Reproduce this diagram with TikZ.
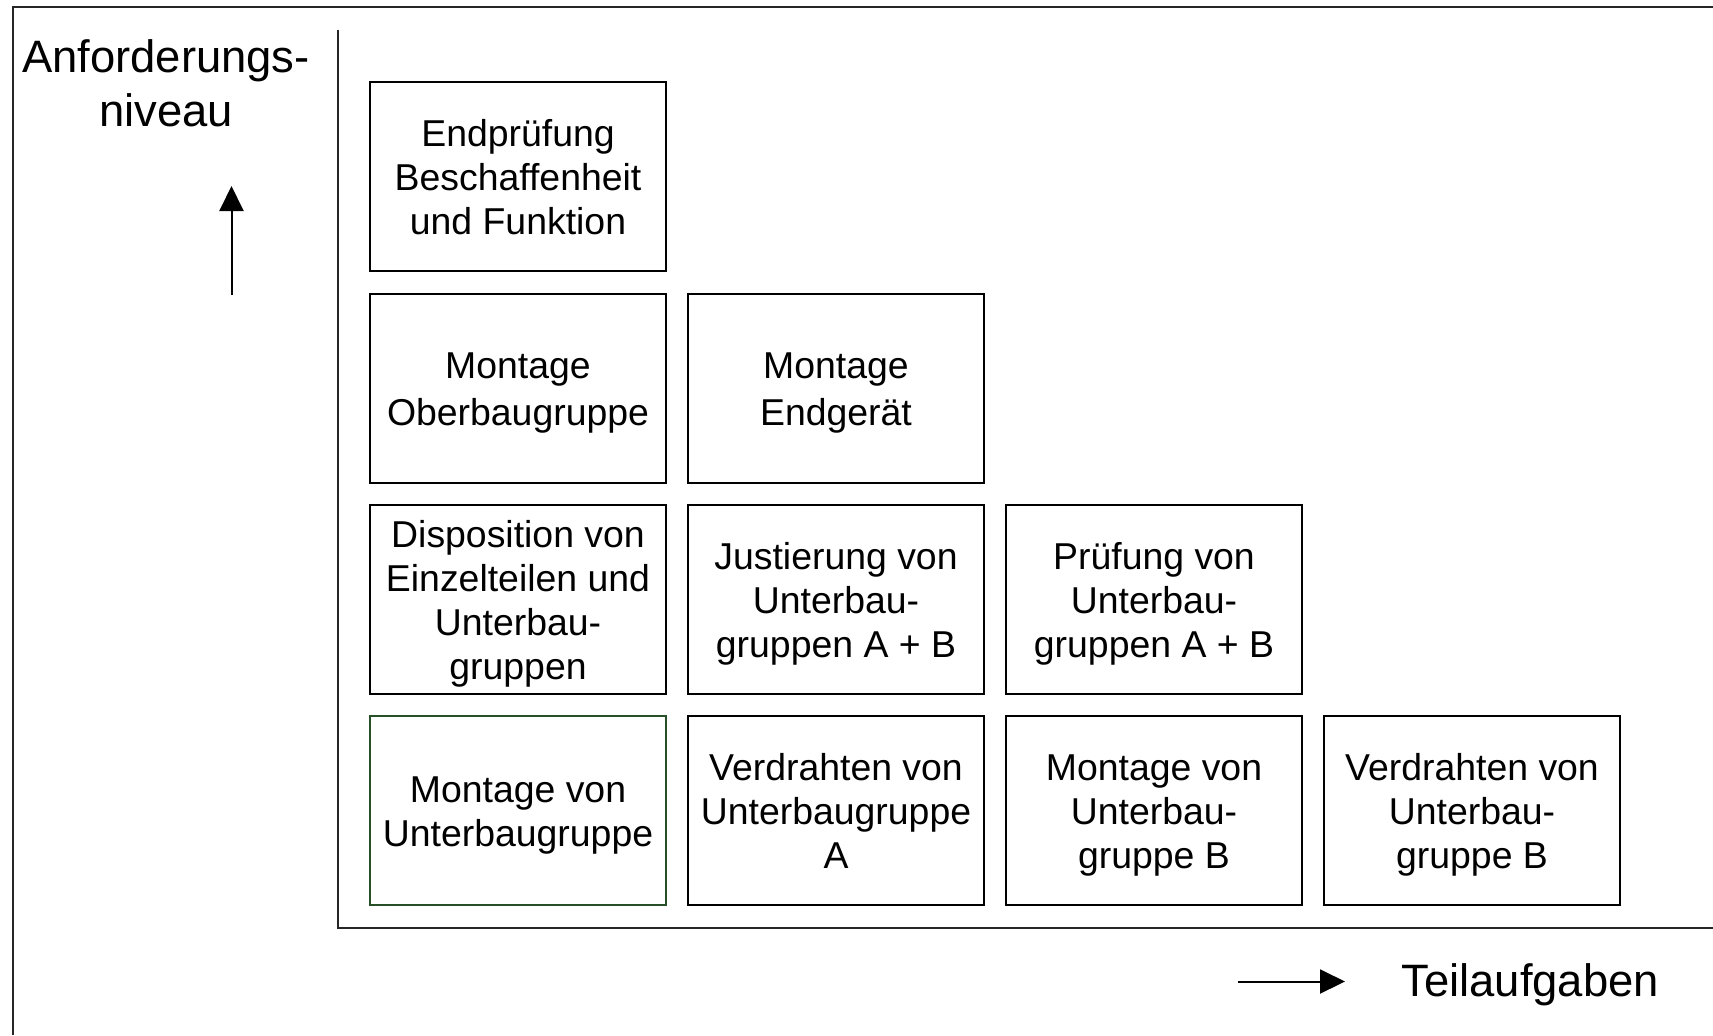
\documentclass[tikz,border=0pt]{standalone}
\usepackage{fontspec}
\setmainfont{Liberation Sans}
\usetikzlibrary{arrows.meta}

\definecolor{framegreen}{RGB}{40,80,40}
% taller strut on the first line of a task box: sets the text block a little low
\newcommand\taskstrut{\rule{0pt}{21pt}}

\begin{document}
\begin{tikzpicture}[x=0.5pt,y=-0.5pt,
    task/.style={draw=black, line width=1pt, minimum width=148pt, minimum height=94.5pt,
      inner sep=0pt, align=center, font=\fontsize{18.7}{22}\selectfont,
      execute at end node=\strut},
    axislabel/.style={inner sep=0pt, align=center, font=\fontsize{22.7}{26.8}\selectfont},
    axisarrow/.style={line width=1pt, -{Triangle[length=12.5pt,width=12pt]}},
    frameline/.style={line width=1pt, draw=black!85}]
  \useasboundingbox (0,0) rectangle (1713,1035);

  % outer frame (open to the right and bottom)
  \draw[frameline] (1713,7) -- (12.5,7) -- (12.5,1035);

  % axes
  \coordinate (axtop) at (337.5,29.5);
  \coordinate (axorigin) at (337.5,927.5);
  \coordinate (axright) at (1713,927.5);
  \draw[frameline] (axtop) -- (axorigin) -- (axright);

  % row 1
  \node[task] (endpruefung) at (518,176.5) {\taskstrut Endprüfung\\Beschaffenheit\\und Funktion};
  % row 2
  \node[task, font=\fontsize{18.7}{23.5}\selectfont] (oberbau) at (518,388) {\taskstrut Montage\\Oberbaugruppe};
  \node[task, font=\fontsize{18.7}{23.5}\selectfont] (endgeraet) at (836,388) {\taskstrut Montage\\Endgerät};
  % row 3
  \node[task] (disposition) at (518,599.5) {\taskstrut Disposition von\\Einzelteilen und\\Unterbau-\\gruppen};
  \node[task] (justierung) at (836,599.5) {\taskstrut Justierung von\\Unterbau-\\gruppen A + B};
  \node[task] (pruefung) at (1154,599.5) {\taskstrut Prüfung von\\Unterbau-\\gruppen A + B};
  % row 4
  \node[task, draw=framegreen] (montageunter) at (518,810.5) {\taskstrut Montage von\\Unterbaugruppe};
  \node[task] (verdrahtenA) at (836,810.5) {\taskstrut Verdrahten von\\Unterbaugruppe\\A};
  \node[task] (montageB) at (1154,810.5) {\taskstrut Montage von\\Unterbau-\\gruppe B};
  \node[task] (verdrahtenB) at (1472,810.5) {\taskstrut Verdrahten von\\Unterbau-\\gruppe B};

  % axis captions
  \node[axislabel] (niveau) at (166,83.5) {Anforderungs-\\niveau};
  \node[axislabel, anchor=base west] (teilaufgaben) at (1401,996) {Teilaufgaben};

  % direction arrows
  \coordinate (upfrom) at (231.5,295);
  \coordinate (upto) at (231.5,186);
  \draw[axisarrow] (upfrom) -- (upto);
  \coordinate (rightfrom) at (1238,981.5);
  \coordinate (rightto) at (1345,981.5);
  \draw[axisarrow] (rightfrom) -- (rightto);
\end{tikzpicture}
\end{document}
